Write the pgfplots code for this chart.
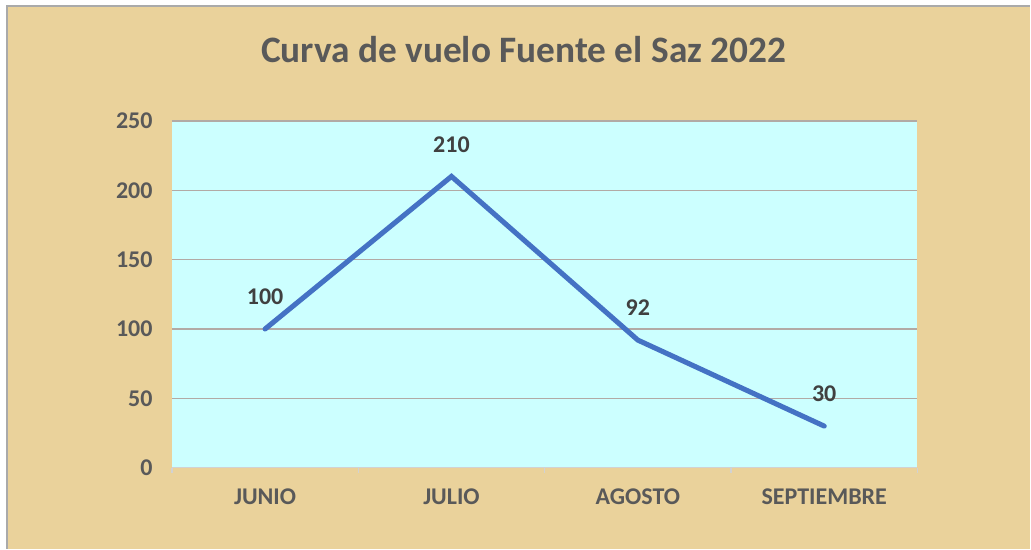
\documentclass[border=0pt]{standalone}
\usepackage{fontspec}
\setmainfont{Carlito}
\usepackage{pgfplots}
\pgfplotsset{compat=1.18}
\definecolor{papyrus}{RGB}{234,210,155}
\definecolor{plotbg}{RGB}{204,255,255}
\definecolor{txt}{RGB}{89,89,89}
\definecolor{lbl}{RGB}{64,64,64}
\definecolor{linec}{RGB}{68,114,196}
\definecolor{gridc}{RGB}{178,170,165}
\definecolor{bordc}{RGB}{170,170,170}
\begin{document}
\begin{tikzpicture}
\fill[white] (0,0) rectangle (773.25pt,411.75pt);
\fill[papyrus] (5.25pt,0) rectangle (773.25pt,407.25pt);
\draw[bordc, line width=1pt] (5.25pt,0) -- (5.25pt,407.25pt) -- (773.25pt,407.25pt);
\node[font=\bfseries\fontsize{28}{31}\selectfont, text=txt] at (393pt,374.25pt) {Curva de vuelo Fuente el Saz 2022};
\begin{axis}[
  at={(129pt,60.75pt)}, anchor=south west,
  scale only axis, width=559.5pt, height=260.25pt,
  xmin=-0.5, xmax=3.5, ymin=0, ymax=250,
  axis background/.style={fill=plotbg},
  axis line style={draw=none},
  xtick pos=bottom, ytick pos=left,
  xtick={0,1,2,3},
  xticklabels={JUNIO,JULIO,AGOSTO,SEPTIEMBRE},
  ytick={0,50,100,150,200,250},
  major tick length=0pt,
  extra x ticks={-0.5,0.5,1.5,2.5,3.5},
  extra x tick labels={},
  extra x tick style={major tick length=4pt, tick align=outside, tick style={gray!35, line width=1pt}, grid=none},
  ymajorgrids, grid style={gridc, line width=1pt},
  tick label style={font=\bfseries\fontsize{18}{20}\selectfont, text=txt},
  /pgf/number format/assume math mode=true,
  yticklabel style={xshift=-11pt},
  xticklabel style={yshift=-12pt},
  clip=false,
  nodes near coords,
  every node near coord/.append style={font=\bfseries\fontsize{18}{20}\selectfont, text=lbl, anchor=center, yshift=24pt},
]
\draw[gray!35, line width=1pt] (axis cs:-0.5,0) -- (axis cs:3.5,0);
\addplot[linec, line width=3.8pt, line cap=round, line join=miter, mark=none] coordinates {(0,100) (1,210) (2,92) (3,30)};
\end{axis}
\end{tikzpicture}
\end{document}
